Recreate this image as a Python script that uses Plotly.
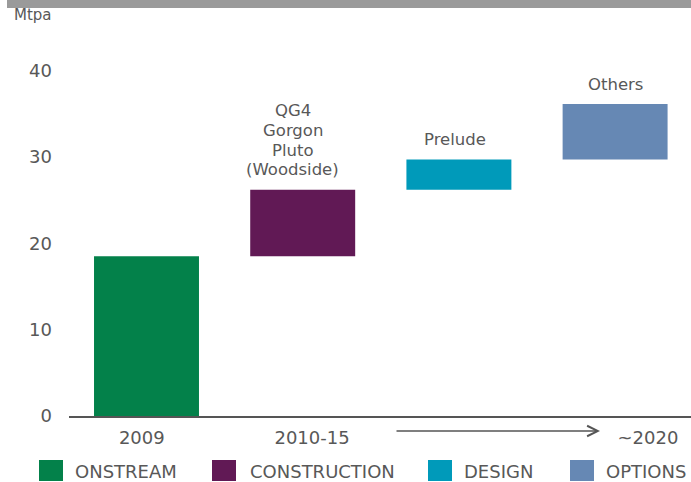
import plotly.graph_objects as go

# ---- data ----
categories = ["ONSTREAM", "CONSTRUCTION", "DESIGN", "OPTIONS"]
increments = [18.5, 7.7, 3.5, 6.4]          # Mtpa added by each stage
bar_labels = [[], ["QG4", "Gorgon", "Pluto", "(Woodside)"], ["Prelude"], ["Others"]]
xtick_text = ["2009", "2010-15", "~2020"]
ytick_vals = [0, 10, 20, 30, 40]
colors = ["#03814a", "#611955", "#009aba", "#6688b4"]

# ---- layout constants ----
W, H = 691, 482
ML, MR, MT, MB = 69, 0, 20, 66
PW, PH = W - ML - MR, H - MT - MB
PX_PER_UNIT = 8.64
Y_MAX = PH / PX_PER_UNIT
BAR_SPACING_PX = 156.2
X_MIN = -77.5 / BAR_SPACING_PX
X_MAX = X_MIN + PW / BAR_SPACING_PX
xtick_pos = [-0.03, 1.06, 3.21]
label_xshift = [0, -10, -4, 0]
legend_sq_px = [39, 212, 428, 570]
legend_txt_px = [73, 248, 462, 604]
TXT = "#585858"
FONT = "DejaVu Sans"
LINE_GAP = 19.6


def xp(px):
    return (px - ML) / PW


def yp(py):
    return (MT + PH - py) / PH


bases = []
acc = 0.0
for v in increments:
    bases.append(acc)
    acc += v
xs = list(range(len(categories)))

fig = go.Figure()
for i, cat in enumerate(categories):
    fig.add_trace(go.Bar(
        x=[xs[i]], y=[increments[i]], base=[bases[i]],
        name=cat, marker=dict(color=colors[i], line=dict(width=0)),
        width=0.672, showlegend=False, hoverinfo="skip",
    ))

annotations = []
# labels above bars
for i, lines in enumerate(bar_labels):
    top = bases[i] + increments[i]
    n = len(lines)
    for j, line in enumerate(lines):
        offset = 20 + (n - 1 - j) * LINE_GAP
        annotations.append(dict(
            x=xs[i], y=top, xref="x", yref="y", text=line, showarrow=False,
            yanchor="middle", xanchor="center", yshift=offset, xshift=label_xshift[i],
            font=dict(family=FONT, size=16.5, color=TXT),
        ))

# unit label
annotations.append(dict(x=xp(12), y=yp(15), xref="paper", yref="paper", text="Mtpa",
                        showarrow=False, xanchor="left", yanchor="middle",
                        font=dict(family=FONT, size=15, color=TXT)))

# time arrow
annotations.append(dict(x=xp(600), y=yp(431), xref="paper", yref="paper", text="",
                        showarrow=True, ax=-205, ay=0, arrowhead=5, arrowsize=1.6,
                        arrowwidth=1.3, arrowcolor="#555555"))

# legend (manual)
shapes = [dict(type="rect", xref="paper", yref="paper", x0=xp(7), x1=1.0,
               y0=yp(8), y1=yp(0), fillcolor="#9a9a9a", line=dict(width=0), layer="above")]
for i, cat in enumerate(categories):
    shapes.append(dict(type="rect", xref="paper", yref="paper",
                       x0=xp(legend_sq_px[i]), x1=xp(legend_sq_px[i] + 24),
                       y0=yp(481), y1=yp(460), fillcolor=colors[i], line=dict(width=0)))
    annotations.append(dict(x=xp(legend_txt_px[i]), y=yp(471), xref="paper", yref="paper",
                            text=cat, showarrow=False, xanchor="left", yanchor="middle",
                            font=dict(family=FONT, size=18, color=TXT)))

fig.update_layout(
    width=W, height=H,
    margin=dict(l=ML, r=MR, t=MT, b=MB, pad=0),
    plot_bgcolor="white", paper_bgcolor="white",
    barmode="overlay",
    showlegend=False,
    xaxis=dict(range=[X_MIN, X_MAX], tickvals=xtick_pos, ticktext=xtick_text,
               showgrid=False, zeroline=False, showline=True, linecolor="#555555",
               linewidth=2, ticks="", ticklabelstandoff=4,
               tickfont=dict(family=FONT, size=18, color=TXT), fixedrange=True),
    yaxis=dict(range=[0, Y_MAX], tickvals=ytick_vals, showgrid=False, zeroline=False,
               showline=False, ticks="", ticklabelstandoff=16,
               tickfont=dict(family=FONT, size=18, color=TXT), fixedrange=True),
    annotations=annotations,
    shapes=shapes,
)

fig.write_html("out.html", config={"displayModeBar": False},
               post_script="document.body.style.margin='0';document.body.style.overflow='hidden';")
